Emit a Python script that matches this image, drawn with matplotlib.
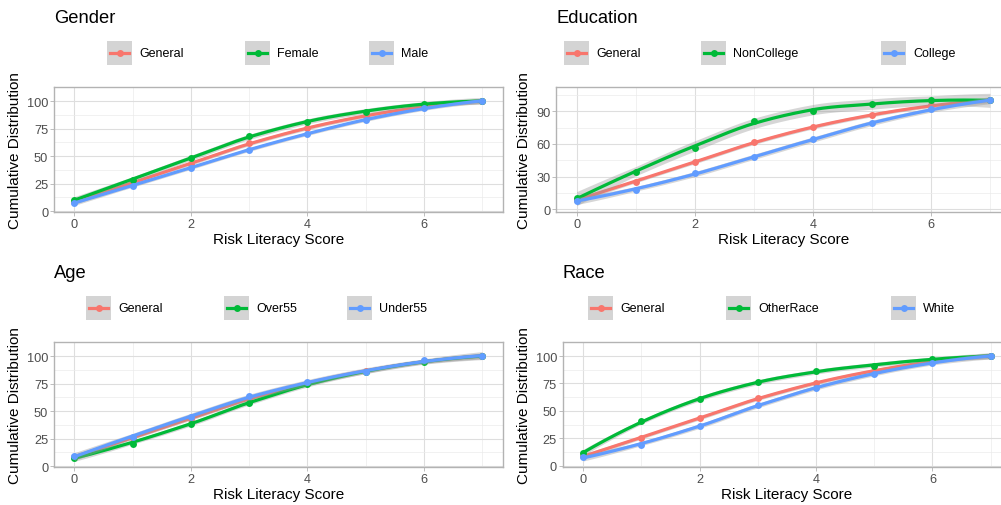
import numpy as np
import matplotlib
matplotlib.use("Agg")
import matplotlib.pyplot as plt
from matplotlib.patches import Rectangle
from matplotlib.lines import Line2D

plt.rcParams['font.family'] = ['Liberation Sans', 'DejaVu Sans']

# data: cumulative distribution (%) by risk literacy score
score = [0, 1, 2, 3, 4, 5, 6, 7]
general = [8.8, 25.3, 43.2, 61.6, 75.6, 86.2, 95.5, 100]
female = [10.5, 28.0, 48.0, 68.2, 81.4, 90.5, 97.6, 100]
male = [7.6, 23.0, 39.5, 56.0, 70.5, 82.7, 94.0, 100]
noncollege = [10.1, 34.6, 56.2, 81.2, 90.6, 96.5, 99.9, 100]
college = [8.0, 17.8, 33.0, 47.7, 64.4, 79.0, 92.0, 100]
over55 = [7.6, 20.6, 38.6, 57.8, 74.4, 85.8, 95.0, 100]
under55 = [8.9, 26.9, 45.0, 63.3, 76.0, 85.9, 96.3, 100]
otherrace = [11.8, 40.6, 60.7, 76.4, 85.9, 91.2, 97.6, 100]
white = [7.6, 19.1, 35.9, 55.3, 71.2, 83.8, 94.0, 100]

colors = ['#F8766D', '#00BA38', '#619CFF']

W, H = 1001, 506
fig = plt.figure(figsize=(W / 100, H / 100), dpi=100)


def px(x, y):
    return x / W, 1 - y / H


def loess(x, y, grid, span=0.75):
    # local quadratic fit with tricube weights at the data points,
    # joined by cubic Hermite pieces (like R's interpolated loess surface)
    x = np.asarray(x, float)
    y = np.asarray(y, float)
    q = int(np.floor(len(x) * span))

    def op(x0):
        d = np.abs(x - x0)
        h = np.sort(d)[q - 1] * 1.0001
        w = np.clip(1 - (d / h) ** 3, 0, None) ** 3
        X = np.column_stack([np.ones_like(x), x - x0, (x - x0) ** 2])
        return np.linalg.solve(X.T @ (w[:, None] * X), X.T * w)

    ops = [op(x0) for x0 in x]
    L = np.array([o[0] for o in ops])
    val = L @ y
    slope = np.array([o[1] @ y for o in ops])
    res = y - val
    M = np.eye(len(x)) - L
    sigma = np.sqrt(np.sum(res ** 2) / np.trace(M.T @ M))

    i = np.clip(np.searchsorted(x, grid, side='right') - 1, 0, len(x) - 2)
    hgt = x[i + 1] - x[i]
    t = (grid - x[i]) / hgt
    h00 = 2 * t ** 3 - 3 * t ** 2 + 1
    h10 = t ** 3 - 2 * t ** 2 + t
    h01 = -2 * t ** 3 + 3 * t ** 2
    h11 = t ** 3 - t ** 2
    fit = h00 * val[i] + h10 * hgt * slope[i] + h01 * val[i + 1] + h11 * hgt * slope[i + 1]
    lw = np.sqrt(np.sum(L ** 2, axis=1))
    se = sigma * ((1 - t) * lw[i] + t * lw[i + 1])
    return fit, se


panels = [
    dict(title='Gender', series=[general, female, male], labels=['General', 'Female', 'Male'],
         box=(54, 502.7, 88.3, 213.3), ylim=(-1, 108.8), yticks=[0, 25, 50, 75, 100],
         keys=[107, 245, 369], texts=[139, 277, 401], ylab_x=15),
    dict(title='Education', series=[general, noncollege, college], labels=['General', 'NonCollege', 'College'],
         box=(556, 1010.7, 88.3, 213.3), ylim=(-2.7, 112), yticks=[0, 30, 60, 90],
         keys=[564, 701, 881], texts=[596, 733, 913], ylab_x=524),
    dict(title='Age', series=[general, over55, under55], labels=['General', 'Over55', 'Under55'],
         box=(54, 502.7, 343.3, 468.3), ylim=(-1, 108.8), yticks=[0, 25, 50, 75, 100],
         keys=[86, 224, 347], texts=[118, 256, 379], ylab_x=15),
    dict(title='Race', series=[general, otherrace, white], labels=['General', 'OtherRace', 'White'],
         box=(562.9, 1011, 343.3, 468.3), ylim=(-1.4, 108.8), yticks=[0, 25, 50, 75, 100],
         keys=[588, 726, 891], texts=[620, 758, 923], ylab_x=524),
]

grid = np.linspace(0, 7, 300)

for p in panels:
    l, r, t, b = p['box']
    ax = fig.add_axes([l / W, 1 - b / H, (r - l) / W, (b - t) / H])
    ax.set_xlim(-0.35, 7.35)
    ax.set_ylim(*p['ylim'])
    ax.set_xticks([0, 2, 4, 6])
    ax.set_xticks([1, 3, 5, 7], minor=True)
    ax.set_yticks(p['yticks'])
    step = p['yticks'][1] - p['yticks'][0]
    ax.set_yticks([v + step / 2 for v in p['yticks']], minor=True)
    ax.grid(which='major', color='#DEDEDE', lw=0.8, zorder=0)
    ax.grid(which='minor', color='#EBEBEB', lw=0.5, zorder=0)
    ax.set_axisbelow(True)
    for s in ax.spines.values():
        s.set_color('#B3B3B3')
        s.set_linewidth(1.0)
    ax.tick_params(which='major', colors='#B3B3B3', labelcolor='#4D4D4D', labelsize=9.2,
                   length=2.7, width=0.6, pad=1.5)
    ax.tick_params(which='minor', length=0)

    z = 2
    for vals, c in zip(p['series'], colors):
        fit, se = loess(score, vals, grid)
        band = np.maximum(3.5 * se, 1.6)
        ax.fill_between(grid, fit - band, fit + band, color='#999999', alpha=0.4,
                        lw=0, zorder=z)
        ax.plot(grid, fit, color=c, lw=2.3, zorder=z + 0.1, solid_capstyle='butt')
        ax.plot(score, vals, 'o', color=c, ms=5, mec='none', zorder=z + 0.2)
        z += 1

    ax.set_xlabel('Risk Literacy Score', fontsize=11, labelpad=1.5)
    fig.text(*px(p['ylab_x'], (t + b) / 2), 'Cumulative Distribution', rotation=90,
             ha='center', va='center', fontsize=11)
    fig.text(*px(l, t - 65), p['title'], fontsize=13.2, ha='left', va='baseline')

    # legend row above the panel
    yc = t - 34.6
    for kx, tx, lab, c in zip(p['keys'], p['texts'], p['labels'], colors):
        x0, y0 = px(kx, yc + 12)
        fig.add_artist(Rectangle((x0, y0), 25 / W, 24 / H, transform=fig.transFigure,
                                 facecolor='#D4D4D4', edgecolor='none'))
        xa, ya = px(kx + 3, yc)
        xb, _ = px(kx + 22, yc)
        fig.add_artist(Line2D([xa, xb], [ya, ya], transform=fig.transFigure, color=c, lw=2.3))
        xm, _ = px(kx + 12.5, yc)
        fig.add_artist(Line2D([xm], [ya], transform=fig.transFigure, color=c, marker='o',
                              ms=5, mec='none'))
        fig.text(*px(tx, yc), lab, fontsize=9, ha='left', va='center')

fig.savefig('out.png', dpi=100)
